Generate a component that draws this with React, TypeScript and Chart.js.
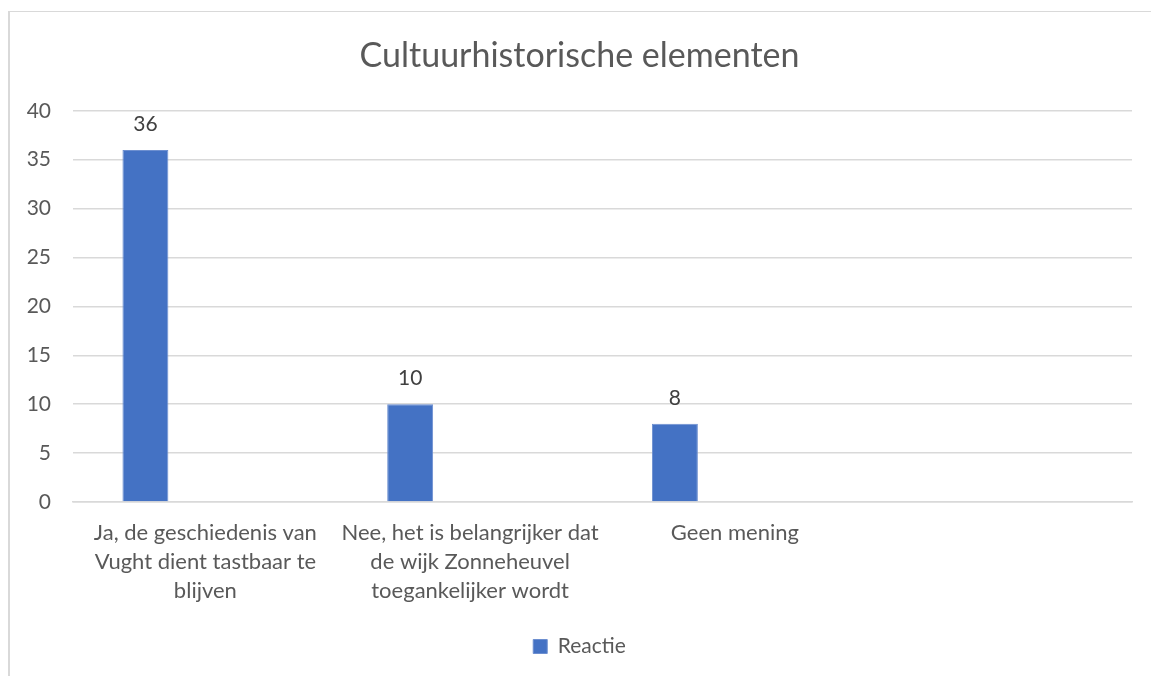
import React, { useEffect, useRef } from "react";
import { Chart, registerables } from "chart.js";

Chart.register(...registerables);

const chartTitle = "Cultuurhistorische elementen";
const categories: (string | string[])[] = [
  ["Ja, de geschiedenis van", "Vught dient tastbaar te", "blijven"],
  ["Nee, het is belangrijker dat", "de wijk Zonneheuvel", "toegankelijker wordt"],
  "Geen mening",
  "",
];
const seriesName = "Reactie";
const reactieValues: (number | null)[] = [36, 10, 8, null];
const emptySeries: (number | null)[] = [null, null, null, null];
const yMin = 0;
const yMax = 40;
const yStep = 5;

const FONT = "Lato, 'Open Sans', sans-serif";
const TEXT = "#595959";
const GRID = "#d9d9d9";
const BAR = "#4472C4";

const valueLabels = {
  id: "valueLabels",
  afterDatasetsDraw(chart: any) {
    const ctx = chart.ctx;
    const meta = chart.getDatasetMeta(0);
    const data = chart.data.datasets[0].data;
    ctx.save();
    ctx.font = `21px ${FONT}`;
    ctx.fillStyle = "#404040";
    ctx.textAlign = "center";
    ctx.textBaseline = "middle";
    meta.data.forEach((el: any, i: number) => {
      const v = data[i];
      if (v === null || v === undefined) return;
      ctx.fillText(String(v), el.x, el.y - 26);
    });
    ctx.restore();
  },
};

export default function App() {
  const ref = useRef<HTMLCanvasElement | null>(null);

  useEffect(() => {
    if (!ref.current) return;
    const chart = new Chart(ref.current, {
      type: "bar",
      data: {
        labels: categories,
        datasets: [
          {
            label: seriesName,
            data: reactieValues,
            backgroundColor: BAR,
            borderColor: "#6d8fd0",
            borderWidth: 1,
            categoryPercentage: 0.906,
            barPercentage: 0.383,
          },
          {
            label: "",
            data: emptySeries,
            backgroundColor: "#ED7D31",
            categoryPercentage: 0.906,
            barPercentage: 0.383,
          },
        ],
      },
      options: {
        responsive: true,
        maintainAspectRatio: false,
        animation: false,
        layout: { padding: { top: 36, left: 27, right: 19, bottom: 9 } },
        plugins: {
          title: {
            display: true,
            text: chartTitle,
            color: TEXT,
            font: { family: FONT, size: 34, weight: "400" },
            padding: { top: 0, bottom: 34 },
          },
          legend: {
            display: true,
            position: "bottom",
            labels: {
              color: TEXT,
              font: { family: FONT, size: 21 },
              boxWidth: 14,
              boxHeight: 14,
              padding: 10,
              filter: (item: any) => item.text !== "",
            },
          },
          tooltip: { enabled: false },
        },
        scales: {
          x: {
            grid: { display: false, drawTicks: false },
            border: { display: true, color: GRID, width: 1.5 },
            ticks: {
              color: TEXT,
              font: { family: FONT, size: 22, lineHeight: 1.3 },
              padding: 17,
              maxRotation: 0,
              autoSkip: false,
            },
            afterFit: (s: any) => {
              s.height = 124;
            },
          },
          y: {
            min: yMin,
            max: yMax,
            grid: { color: GRID, lineWidth: 1.5, drawTicks: false },
            border: { display: false },
            ticks: {
              stepSize: yStep,
              color: TEXT,
              font: { family: FONT, size: 21 },
              padding: 22,
            },
            afterFit: (s: any) => {
              s.width = 46;
            },
          },
        },
      },
      plugins: [valueLabels],
    });
    return () => chart.destroy();
  }, []);

  return (
    <div
      style={{
        position: "fixed",
        left: 0,
        top: 0,
        width: 1151,
        height: 676,
        overflow: "hidden",
        background: "#ffffff",
      }}
    >
      <div
        style={{
          position: "absolute",
          left: 8,
          top: 11,
          width: 1200,
          height: 720,
          borderLeft: "2px solid #d9d9d9",
          borderTop: "1px solid #d9d9d9",
        }}
      />
      <div style={{ position: "absolute", left: 0, top: 0, width: 1151, height: 676 }}>
        <canvas ref={ref} />
      </div>
    </div>
  );
}
